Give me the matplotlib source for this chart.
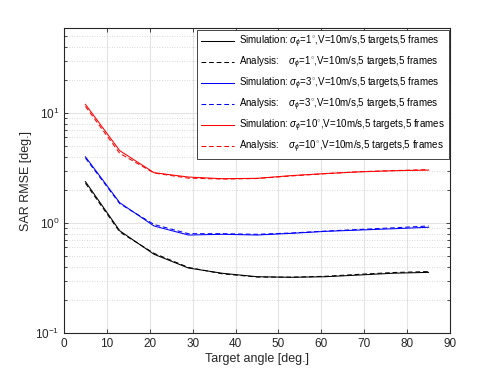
import numpy as np
import matplotlib
matplotlib.use('Agg')
import matplotlib.pyplot as plt
from matplotlib.ticker import LogLocator, FixedLocator

plt.rcParams['font.family'] = ['Liberation Sans', 'DejaVu Sans']
plt.rcParams['mathtext.fontset'] = 'custom'
plt.rcParams['mathtext.rm'] = 'Liberation Sans'
plt.rcParams['mathtext.it'] = 'Liberation Sans:italic'

# target angles [deg]
angle = [5, 13, 21, 29, 37, 45, 53, 61, 69, 77, 85]

# sigma_phi = 1 deg
sim_1 = [2.38, 0.85, 0.52, 0.39, 0.349, 0.325, 0.321, 0.325, 0.337, 0.35, 0.356]
ana_1 = [2.30, 0.83, 0.53, 0.395, 0.345, 0.323, 0.322, 0.328, 0.342, 0.355, 0.362]
# sigma_phi = 3 deg
sim_3 = [4.0, 1.53, 0.94, 0.778, 0.79, 0.778, 0.806, 0.84, 0.864, 0.888, 0.915]
ana_3 = [3.9, 1.50, 0.97, 0.80, 0.80, 0.79, 0.812, 0.845, 0.875, 0.905, 0.94]
# sigma_phi = 10 deg
sim_10 = [12.0, 4.55, 2.87, 2.62, 2.53, 2.55, 2.70, 2.82, 2.92, 2.99, 3.03]
ana_10 = [11.5, 4.3, 2.85, 2.56, 2.51, 2.54, 2.68, 2.81, 2.93, 3.0, 3.06]

labels = [
    r'Simulation: $\sigma_{\phi}$=1$^{\circ}$,V=10m/s,5 targets,5 frames',
    r'Analysis:    $\sigma_{\phi}$=1$^{\circ}$,V=10m/s,5 targets,5 frames',
    r'Simulation: $\sigma_{\phi}$=3$^{\circ}$,V=10m/s,5 targets,5 frames',
    r'Analysis:    $\sigma_{\phi}$=3$^{\circ}$,V=10m/s,5 targets,5 frames',
    r'Simulation: $\sigma_{\phi}$=10$^{\circ}$,V=10m/s,5 targets,5 frames',
    r'Analysis:    $\sigma_{\phi}$=10$^{\circ}$,V=10m/s,5 targets,5 frames',
]

fig = plt.figure(figsize=(4.98, 3.74), dpi=100)
ax = fig.add_axes([0.1285, 0.1096, 0.7751, 0.8154])

lw = 0.75
dash = (0, (4.5, 2.8))
ax.plot(angle, sim_1, color='#000000', ls='-', lw=lw, label=labels[0])
ax.plot(angle, ana_1, color='#000000', ls=dash, lw=lw, label=labels[1])
ax.plot(angle, sim_3, color='#0000ff', ls='-', lw=lw, label=labels[2])
ax.plot(angle, ana_3, color='#0000ff', ls=dash, lw=lw, label=labels[3])
ax.plot(angle, sim_10, color='#ff0000', ls='-', lw=lw, label=labels[4])
ax.plot(angle, ana_10, color='#ff0000', ls=dash, lw=lw, label=labels[5])

ax.set_yscale('log')
ax.set_xlim(0, 90)
ax.set_ylim(0.1, 59.3)
ax.set_xticks(range(0, 91, 10))
ax.yaxis.set_major_locator(FixedLocator([0.1, 1, 10]))
ax.set_yticklabels([r'$10^{-1}$', r'$10^{0}$', r'$10^{1}$'])
ax.yaxis.set_minor_locator(LogLocator(base=10, subs=np.arange(2, 10)))
ax.yaxis.set_minor_formatter(plt.NullFormatter())

ax.grid(True, which='major', color='#e3e3e3', lw=0.8)
ax.grid(True, which='minor', axis='y', color='#cccccc', lw=0.6, ls=(0, (1, 2)))
ax.set_axisbelow(True)

axc = '#262626'
for s in ax.spines.values():
    s.set_color(axc)
    s.set_linewidth(0.8)
ax.tick_params(which='both', direction='in', top=True, right=True, colors=axc,
               labelsize=8.5, length=3, width=0.6)
ax.tick_params(which='minor', length=2)

ax.set_xlabel('Target angle [deg.]', fontsize=9, color=axc, labelpad=2)
ax.set_ylabel('SAR RMSE [deg.]', fontsize=9, color=axc, labelpad=2)

leg = ax.legend(loc='upper right', fontsize=7.0, frameon=True, fancybox=False,
                edgecolor='#262626', framealpha=1, borderaxespad=0.15,
                handlelength=3.4, handletextpad=0.5, labelspacing=0.48,
                borderpad=0.4)
leg.get_frame().set_linewidth(0.6)

plt.savefig('out.png', dpi=100)
